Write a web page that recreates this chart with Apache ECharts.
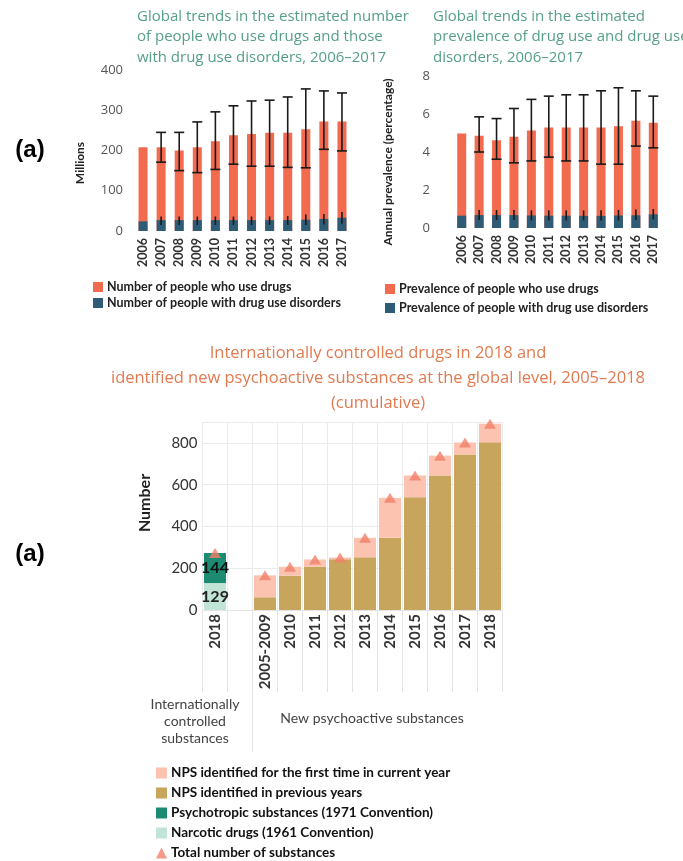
<!DOCTYPE html>
<html>
<head>
<meta charset="utf-8">
<script src="https://cdn.jsdelivr.net/npm/echarts@6/dist/echarts.min.js"></script>
<style>
html,body{margin:0;padding:0;background:#fff;}
#main{width:683px;height:861px;}
</style>
</head>
<body>
<div id="main"></div>
<script>
// ---------- Chart 1: number of people (millions) ----------
const years = ['2006','2007','2008','2009','2010','2011','2012','2013','2014','2015','2016','2017'];
const usersM     = [208, 208, 200, 208, 223, 238, 241, 244, 244, 253, 272, 272];
const usersLowM  = [null,171, 150, 145, 153, 166, 161, 161, 158, 157, 203, 199];
const usersHighM = [null,245, 245, 271, 296, 311, 323, 325, 333, 353, 348, 343];
const disordM     = [24, 27, 27, 27, 27, 27, 27, 27, 27, 28, 30, 33];
const disordLowM  = [null,15, 15, 15, 15, 15, 15, 15, 15, 15, 16, 18];
const disordHighM = [null,36, 36, 36, 36, 36, 36, 36, 37, 41, 42, 47];
const yTicks1 = [0, 100, 200, 300, 400];

// ---------- Chart 2: prevalence (%) ----------
const prevUse     = [4.97, 4.85, 4.62, 4.80, 5.13, 5.29, 5.29, 5.29, 5.29, 5.36, 5.64, 5.54];
const prevUseLow  = [null, 4.00, 3.62, 3.43, 3.53, 3.73, 3.53, 3.53, 3.36, 3.36, 4.31, 4.22];
const prevUseHigh = [null, 5.85, 5.76, 6.29, 6.77, 6.94, 7.01, 7.01, 7.22, 7.38, 7.22, 6.94];
const prevDis     = [0.65, 0.68, 0.68, 0.68, 0.66, 0.65, 0.65, 0.64, 0.64, 0.66, 0.67, 0.72];
const prevDisLow  = [null, 0.42, 0.42, 0.42, 0.40, 0.40, 0.40, 0.40, 0.40, 0.40, 0.42, 0.45];
const prevDisHigh = [null, 0.95, 0.95, 0.95, 0.93, 0.93, 0.93, 0.93, 0.93, 0.95, 0.97, 1.00];
const yTicks2 = [0, 2, 4, 6, 8];

// ---------- Chart 3: controlled drugs & NPS ----------
const cats3 = ['2018', '', '2005-2009', '2010', '2011', '2012', '2013', '2014', '2015', '2016', '2017', '2018'];
const icsNarcotic = 129;
const icsPsychotropic = 144;
const icsTotal = 273;
const npsPrevious = [61, 164, 207, 243, 252, 346, 540, 644, 744, 803];
const npsNew      = [105, 43, 35, 8, 94, 191, 104, 95, 58, 89];
const npsTotal    = [166, 207, 242, 251, 346, 537, 644, 739, 802, 892];

// colours
const cOrange = '#f36b4f', cBlue = '#2e5c76';
const cPink = '#fbc3b0', cGold = '#c8a55c', cTeal = '#1b8c72', cMint = '#c2e4d6', cTri = '#f3806a';
const cGreenTitle = '#55a085', cOrangeTitle = '#e27a50';

function errData(low, high) {
  const out = [];
  low.forEach((v, i) => { if (v != null) out.push([i, v, high[i]]); });
  return out;
}
function errSeries(xi, yi, data, half, width) {
  return {
    type: 'custom', xAxisIndex: xi, yAxisIndex: yi, data: data,
    encode: { x: 0, y: [1, 2] }, z: 10, silent: true,
    renderItem: function (params, api) {
      const x = api.value(0);
      const lo = api.coord([x, api.value(1)]);
      const hi = api.coord([x, api.value(2)]);
      const st = { stroke: '#1a1a1a', lineWidth: width };
      return { type: 'group', children: [
        { type: 'line', shape: { x1: lo[0], y1: lo[1], x2: hi[0], y2: hi[1] }, style: st },
        { type: 'line', shape: { x1: hi[0] - half, y1: hi[1], x2: hi[0] + half, y2: hi[1] }, style: st },
        { type: 'line', shape: { x1: lo[0] - half, y1: lo[1], x2: lo[0] + half, y2: lo[1] }, style: st }
      ]};
    }
  };
}

const pad = (arr) => [null, null].concat(arr);
const icsOnly = (v) => [v].concat(new Array(11).fill(null));

const chart = echarts.init(document.getElementById('main'), null, { renderer: 'canvas' });

const smallYear = { fontFamily: 'Lato', fontSize: 12.5, fontWeight: 'bold', color: '#333', rotate: 90, margin: 7, interval: 0 };
const legText = { fontFamily: 'Lato', fontSize: 12.5, fontWeight: 'bold', color: '#222', lineHeight: 14, padding: [0, 0, 0, -1] };

const option = {
  animation: false,
  backgroundColor: '#fff',
  textStyle: { fontFamily: 'Lato' },
  grid: [
    { left: 134, top: 70, width: 217, height: 161 },
    { left: 453, top: 76, width: 209, height: 152 },
    { left: 202.5, top: 422, width: 300, height: 188 }
  ],
  xAxis: [
    { gridIndex: 0, type: 'category', data: years, axisLine: { show: false }, axisTick: { show: false }, axisLabel: smallYear },
    { gridIndex: 1, type: 'category', data: years, axisLine: { show: false }, axisTick: { show: false }, axisLabel: smallYear },
    { gridIndex: 2, type: 'category', data: cats3,
      axisLine: { show: true, lineStyle: { color: '#e4e4e4' } },
      axisTick: { show: true, interval: 0, length: 82, lineStyle: { color: '#e4e4e4' } },
      splitLine: { show: true, interval: 0, lineStyle: { color: '#ebebeb' } },
      axisLabel: { fontFamily: 'Lato', fontSize: 15, fontWeight: 'bold', color: '#333', rotate: 90, margin: 4, interval: 0 } }
  ],
  yAxis: [
    { gridIndex: 0, type: 'value', min: yTicks1[0], max: yTicks1[yTicks1.length - 1], interval: 100,
      axisLine: { show: false }, axisTick: { show: false }, splitLine: { show: false },
      axisLabel: { fontFamily: 'Open Sans', fontSize: 13, color: '#555', margin: 11 } },
    { gridIndex: 1, type: 'value', min: yTicks2[0], max: yTicks2[yTicks2.length - 1], interval: 2,
      axisLine: { show: false }, axisTick: { show: false }, splitLine: { show: false },
      axisLabel: { fontFamily: 'Open Sans', fontSize: 13, color: '#555', margin: 23 } },
    { gridIndex: 2, type: 'value', min: 0, max: 900, interval: 200,
      axisLine: { show: false }, axisTick: { show: false },
      splitLine: { show: true, lineStyle: { color: '#ebebeb' } },
      axisLabel: { fontFamily: 'Lato', fontSize: 15, color: '#333', margin: 5, showMaxLabel: false } }
  ],
  legend: [
    { orient: 'vertical', left: 93, top: 280, padding: 0, itemWidth: 10, itemHeight: 10, itemGap: 2, icon: 'rect',
      textStyle: legText,
      data: ['Number of people who use drugs', 'Number of people with drug use disorders'] },
    { orient: 'vertical', left: 385, top: 282, padding: 0, itemWidth: 10, itemHeight: 10, itemGap: 5, icon: 'rect',
      textStyle: legText,
      data: ['Prevalence of people who use drugs', 'Prevalence of people with drug use disorders'] },
    { orient: 'vertical', left: 156, top: 765, padding: 0, itemWidth: 11, itemHeight: 11, itemGap: 4, height: 100,
      textStyle: { fontFamily: 'Lato', fontSize: 13.5, fontWeight: 'bold', color: '#111', lineHeight: 16, padding: [0, 0, 0, -1] },
      data: [
        { name: 'NPS identified for the first time in current year', icon: 'rect' },
        { name: 'NPS identified in previous years', icon: 'rect' },
        { name: 'Psychotropic substances (1971 Convention)', icon: 'rect' },
        { name: 'Narcotic drugs (1961 Convention)', icon: 'rect' },
        { name: 'Total number of substances', icon: 'triangle' }
      ] }
  ],
  series: [
    // chart 1
    { name: 'Number of people who use drugs', type: 'bar', xAxisIndex: 0, yAxisIndex: 0, data: usersM,
      barWidth: 9, itemStyle: { color: cOrange } },
    { name: 'Number of people with drug use disorders', type: 'bar', xAxisIndex: 0, yAxisIndex: 0, data: disordM,
      barWidth: 9, barGap: '-100%', itemStyle: { color: cBlue } },
    errSeries(0, 0, errData(usersLowM, usersHighM), 5, 1.6),
    errSeries(0, 0, errData(disordLowM, disordHighM), 0, 1.6),
    // chart 2
    { name: 'Prevalence of people who use drugs', type: 'bar', xAxisIndex: 1, yAxisIndex: 1, data: prevUse,
      barWidth: 9, itemStyle: { color: cOrange } },
    { name: 'Prevalence of people with drug use disorders', type: 'bar', xAxisIndex: 1, yAxisIndex: 1, data: prevDis,
      barWidth: 9, barGap: '-100%', itemStyle: { color: cBlue } },
    errSeries(1, 1, errData(prevUseLow, prevUseHigh), 5, 1.6),
    errSeries(1, 1, errData(prevDisLow, prevDisHigh), 0, 1.6),
    // chart 3
    { name: 'Narcotic drugs (1961 Convention)', type: 'bar', stack: 'all', xAxisIndex: 2, yAxisIndex: 2,
      data: icsOnly(icsNarcotic), barWidth: 22, itemStyle: { color: cMint },
      label: { show: true, position: 'inside', fontFamily: 'Lato', fontSize: 16, fontWeight: 'bold', color: '#222' } },
    { name: 'Psychotropic substances (1971 Convention)', type: 'bar', stack: 'all', xAxisIndex: 2, yAxisIndex: 2,
      data: icsOnly(icsPsychotropic), barWidth: 22, itemStyle: { color: cTeal },
      label: { show: true, position: 'inside', fontFamily: 'Lato', fontSize: 16, fontWeight: 'bold', color: '#111' } },
    { name: 'NPS identified in previous years', type: 'bar', stack: 'all', xAxisIndex: 2, yAxisIndex: 2,
      data: pad(npsPrevious), barWidth: 22, itemStyle: { color: cGold } },
    { name: 'NPS identified for the first time in current year', type: 'bar', stack: 'all', xAxisIndex: 2, yAxisIndex: 2,
      data: pad(npsNew), barWidth: 22, itemStyle: { color: cPink } },
    { name: 'Total number of substances', type: 'scatter', xAxisIndex: 2, yAxisIndex: 2,
      data: [icsTotal, null].concat(npsTotal), symbol: 'triangle', symbolSize: [12, 10],
      itemStyle: { color: cTri }, z: 5 }
  ],
  graphic: [
    { type: 'text', x: 137, y: 6, style: { text: 'Global trends in the estimated number\nof people who use drugs and those\nwith drug use disorders, 2006–2017',
      font: '15px "Open Sans"', fill: cGreenTitle, lineHeight: 20.5 } },
    { type: 'text', x: 433, y: 6, style: { text: 'Global trends in the estimated\nprevalence of drug use and drug use\ndisorders, 2006–2017',
      font: '15px "Open Sans"', fill: cGreenTitle, lineHeight: 20.5 } },
    { type: 'text', x: 80, y: 163, rotation: Math.PI / 2, style: { text: 'Millions', font: 'bold 12px Lato', fill: '#222', align: 'center', verticalAlign: 'middle' } },
    { type: 'text', x: 388, y: 162, rotation: Math.PI / 2, style: { text: 'Annual prevalence (percentage)', font: 'bold 12px Lato', fill: '#222', align: 'center', verticalAlign: 'middle' } },
    { type: 'text', x: 145, y: 503, rotation: Math.PI / 2, style: { text: 'Number', font: 'bold 16px Lato', fill: '#222', align: 'center', verticalAlign: 'middle' } },
    { type: 'text', x: 30, y: 150, style: { text: '(a)', font: 'bold 24px "Liberation Sans"', fill: '#000', align: 'center', verticalAlign: 'middle' } },
    { type: 'text', x: 30, y: 554, style: { text: '(a)', font: 'bold 24px "Liberation Sans"', fill: '#000', align: 'center', verticalAlign: 'middle' } },
    { type: 'text', x: 378, y: 341, style: { text: 'Internationally controlled drugs in 2018 and\nidentified new psychoactive substances at the global level, 2005–2018\n(cumulative)',
      font: '16.5px "Open Sans"', fill: cOrangeTitle, lineHeight: 25, align: 'center' } },
    { type: 'text', x: 195, y: 696, style: { text: 'Internationally\ncontrolled\nsubstances', font: '14px Lato', fill: '#444', lineHeight: 17, align: 'center' } },
    { type: 'text', x: 372, y: 718, style: { text: 'New psychoactive substances', font: '14px Lato', fill: '#444', align: 'center', verticalAlign: 'middle' } }
  ]
};
chart.setOption(option);

// group divider below the category axis (between controlled substances and NPS)
const b1 = chart.convertToPixel({ xAxisIndex: 2 }, 1);
const b2 = chart.convertToPixel({ xAxisIndex: 2 }, 2);
const divX = (b1 + b2) / 2;
chart.setOption({ graphic: option.graphic.concat([
  { type: 'line', shape: { x1: divX, y1: 692, x2: divX, y2: 752 }, style: { stroke: '#e4e4e4', lineWidth: 1 } }
]) });
</script>
</body>
</html>
